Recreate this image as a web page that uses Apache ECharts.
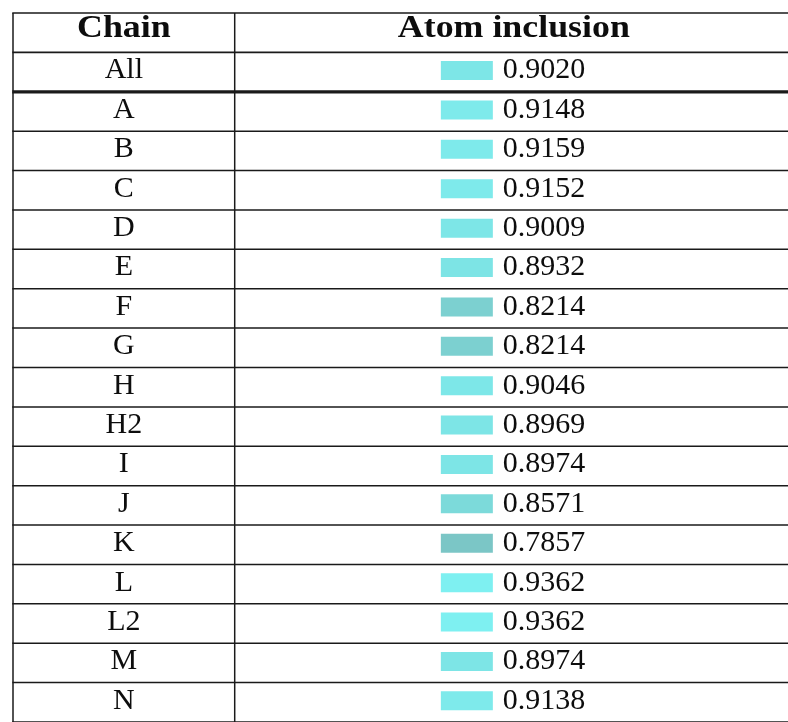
<!DOCTYPE html>
<html><head><meta charset="utf-8">
<script src="https://cdn.jsdelivr.net/npm/echarts@6/dist/echarts.min.js"></script>
<style>html,body{margin:0;padding:0;background:#fff}#c{width:788px;height:722px}</style>
</head><body><div id="c"></div>
<script>
const headers = ['Chain', 'Atom inclusion'];
const chains = ['All','A','B','C','D','E','F','G','H','H2','I','J','K','L','L2','M','N'];
const inclusion = [0.9020,0.9148,0.9159,0.9152,0.9009,0.8932,0.8214,0.8214,0.9046,0.8969,0.8974,0.8571,0.7857,0.9362,0.9362,0.8974,0.9138];
const rowCats = [headers[0]].concat(chains);

const LINE = '#1a1a1a';
const SERIF = '"Liberation Serif", "Times New Roman", serif';
const GRID_W = 770;      // visible part of the table (pixels of x axis)
const COL_SPLIT = 221.7; // chain column width
const TABLE_W = 780;     // full table width (extends past the page edge)
const ROW_H = 39.68;

const chart = echarts.init(document.getElementById('c'), null, {renderer: 'canvas'});

function colGeom(api, rowIdx) {
  const p0 = api.coord([0, rowIdx]);
  const p1 = api.coord([TABLE_W, rowIdx]);
  const pd = api.coord([COL_SPLIT, rowIdx]);
  const h = api.size([0, 1])[1];
  return {x0: p0[0], x1: p1[0], xd: pd[0], cy: p0[1], top: p0[1] - h / 2, bot: p0[1] + h / 2, h: h};
}
function hline(x0, x1, y, w) {
  return {type: 'line', shape: {x1: x0, y1: y, x2: x1, y2: y}, style: {stroke: LINE, lineWidth: w}};
}
function vline(x, y0, y1, w) {
  return {type: 'line', shape: {x1: x, y1: y0, x2: x, y2: y1}, style: {stroke: LINE, lineWidth: w}};
}
function txt(s, x, y, opts) {
  opts = opts || {};
  return {
    type: 'text', x: x, y: y, scaleX: opts.scaleX || 1,
    style: {
      text: s, x: 0, y: 0, align: opts.align || 'center', verticalAlign: 'middle',
      fontFamily: SERIF, fontSize: opts.size || 30, fontWeight: opts.weight || 'normal', fill: '#0d0d0d'
    }
  };
}

const option = {
  animation: false,
  grid: {left: 13, top: 13, width: GRID_W, height: ROW_H * rowCats.length},
  xAxis: {type: 'value', min: 0, max: GRID_W, show: false},
  yAxis: {type: 'category', data: rowCats, inverse: true, show: false},
  visualMap: {
    type: 'continuous', show: false, seriesIndex: 1, dimension: 2,
    min: Math.min.apply(null, inclusion), max: Math.max.apply(null, inclusion),
    inRange: {color: ['#7bc6c6', '#7ef0f1']}
  },
  series: [
    {
      type: 'custom',
      data: [[0, 0]],
      renderItem: function (params, api) {
        const g = colGeom(api, api.value(1));
        const ty = g.cy - 3.5;
        return {
          type: 'group',
          children: [
            hline(g.x0 - 0.75, g.x1, g.top, 1.3),
            hline(g.x0 - 0.75, g.x1, g.bot, 1.9),
            vline(g.x0, g.top, g.bot, 1.5),
            vline(g.xd, g.top, g.bot, 1.5),
            txt(headers[0], (g.x0 + g.xd) / 2, ty, {weight: 'bold', size: 32, scaleX: 1.12}),
            txt(headers[1], (g.xd + g.x1) / 2, ty, {weight: 'bold', size: 32, scaleX: 1.12})
          ]
        };
      }
    },
    {
      type: 'custom',
      data: chains.map(function (c, i) { return [0, i + 1, inclusion[i]]; }),
      encode: {x: 0, y: 1},
      renderItem: function (params, api) {
        const i = params.dataIndex;
        const g = colGeom(api, api.value(1));
        const bw = i === 0 ? 3.2 : 1.5;
        const vc = (g.xd + g.x1) / 2;
        const ty = g.cy - 1.5;
        const sx = vc - 73;
        return {
          type: 'group',
          children: [
            vline(g.x0, g.top, g.bot, 1.5),
            vline(g.xd, g.top, g.bot, 1.5),
            hline(g.x0 - 0.75, g.x1, g.bot, bw),
            txt(chains[i], (g.x0 + g.xd) / 2, ty),
            {type: 'rect', shape: {x: sx, y: ty - 9.5, width: 52, height: 19}, style: {fill: api.visual('color')}},
            txt(api.value(2).toFixed(4), sx + 62, ty, {align: 'left'})
          ]
        };
      }
    }
  ]
};
chart.setOption(option);
</script>
</body></html>
